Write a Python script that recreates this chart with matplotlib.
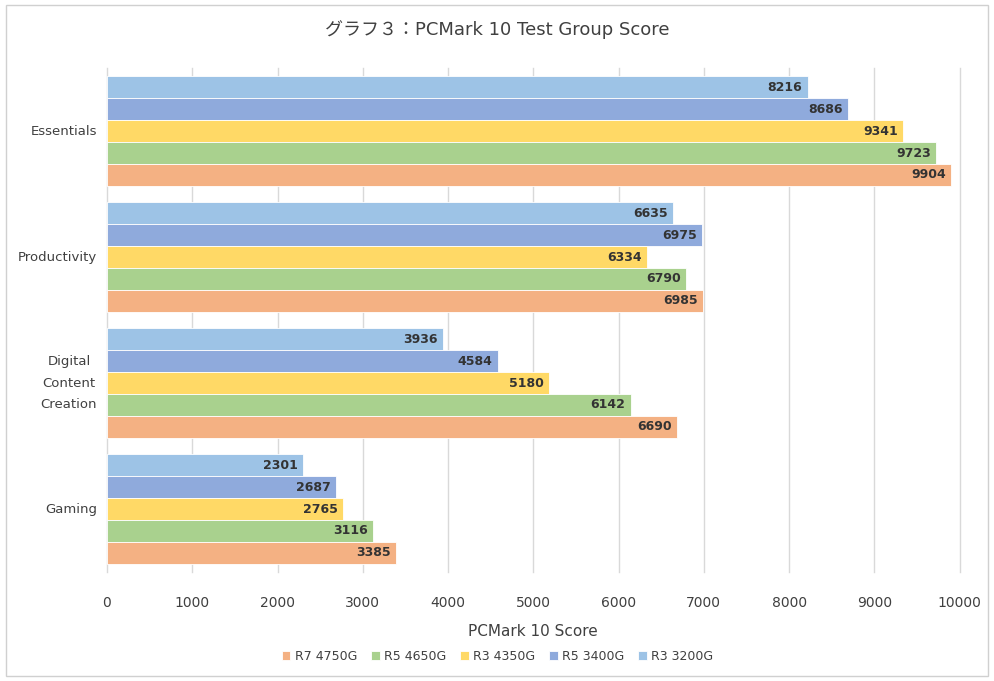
import matplotlib.pyplot as plt
from matplotlib.patches import Rectangle
import numpy as np

plt.rcParams['font.family'] = ['DejaVu Sans', 'Noto Sans CJK JP']

categories = ["Essentials", "Productivity", "Digital\nContent\nCreation", "Gaming"]
# series listed top-to-bottom within each group
series = ["R3 3200G", "R5 3400G", "R3 4350G", "R5 4650G", "R7 4750G"]
r3_3200g = [8216, 6635, 3936, 2301]
r5_3400g = [8686, 6975, 4584, 2687]
r3_4350g = [9341, 6334, 5180, 2765]
r5_4650g = [9723, 6790, 6142, 3116]
r7_4750g = [9904, 6985, 6690, 3385]
values = [r3_3200g, r5_3400g, r3_4350g, r5_4650g, r7_4750g]
colors = ["#9DC3E6", "#8FAADC", "#FFD966", "#A9D18E", "#F4B183"]

fig = plt.figure(figsize=(9.95, 6.81), dpi=100)
ax = fig.add_axes([0.1075, 0.160, 0.857, 0.740])

# outer chart border
fig.patches.append(Rectangle((6 / 995, 5 / 681), 982 / 995, 671 / 681,
                             transform=fig.transFigure, fill=False,
                             edgecolor="#D0D0D0", linewidth=1))

n = len(series)
bar_h = 0.174
y = np.arange(len(categories))
handles = {}
for i, (name, vals, c) in enumerate(zip(series, values, colors)):
    pos = y + (i - (n - 1) / 2) * bar_h
    bars = ax.barh(pos, vals, height=bar_h, color=c, edgecolor="white",
                   linewidth=0.6, zorder=3)
    handles[name] = bars
    for b, v in zip(bars, vals):
        ax.text(v - 60, b.get_y() + b.get_height() / 2, f"{v}",
                ha="right", va="center", fontsize=9, fontweight="bold",
                color="#333333", zorder=4)

ax.set_ylim(len(categories) - 0.5, -0.5)
ax.set_xlim(0, 10000)
ax.set_xticks(np.arange(0, 10001, 1000))
ax.set_yticks(y)
ax.set_yticklabels(categories, multialignment="center", linespacing=1.85)
for t in ax.get_yticklabels():
    t.set_verticalalignment("center")
ax.tick_params(axis="y", length=0, pad=7, labelsize=9.5, labelcolor="#404040")
ax.tick_params(axis="x", length=0, pad=17, labelsize=10, labelcolor="#404040")
ax.grid(axis="x", color="#D9D9D9", linewidth=1, zorder=0)
for g in ax.get_xgridlines():
    g.set_clip_on(False)
for s in ax.spines.values():
    s.set_visible(False)

ax.set_xlabel("PCMark 10 Score", fontsize=11, color="#404040", labelpad=10)
fig.text(0.5, 1 - 30 / 681, "グラフ３：PCMark 10 Test Group Score",
         ha="center", va="center", fontsize=13, color="#404040")

order = ["R7 4750G", "R5 4650G", "R3 4350G", "R5 3400G", "R3 3200G"]
leg = fig.legend([handles[k] for k in order], order, loc="center",
                 bbox_to_anchor=(0.5, 1 - 656 / 681), ncol=5, frameon=False,
                 fontsize=9, handlelength=0.7, handleheight=0.7,
                 columnspacing=1.1, handletextpad=0.35)
for t in leg.get_texts():
    t.set_color("#404040")

fig.savefig("out.png", dpi=100)
